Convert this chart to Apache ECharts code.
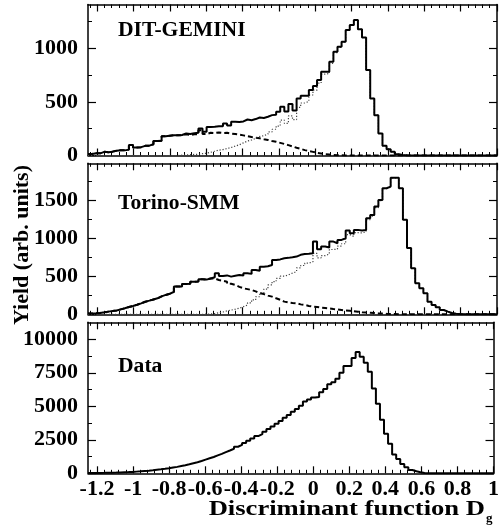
<!DOCTYPE html>
<html>
<head>
<meta charset="utf-8">
<script src="https://cdn.jsdelivr.net/npm/echarts@6/dist/echarts.min.js"></script>
<style>
html,body{margin:0;padding:0;background:#fff;}
#c{width:502px;height:527px;}
</style>
</head>
<body>
<div id="c"></div>
<script>
// ---------------- DATA ----------------
const binLow = -1.25;
const binWidth = 0.0225; // 100 bins from -1.25 to 1.0

const panelNames = ['DIT-GEMINI', 'Torino-SMM', 'Data'];

const xTickValues = [-1.2, -1, -0.8, -0.6, -0.4, -0.2, 0, 0.2, 0.4, 0.6, 0.8, 1];
const xTickLabels = ['-1.2', '-1', '-0.8', '-0.6', '-0.4', '-0.2', '0', '0.2', '0.4', '0.6', '0.8', '1'];

const yMaxs = [1410, 1980, 11270];
const yTicks1 = [0, 500, 1000];
const yTicks2 = [0, 500, 1000, 1500];
const yTicks3 = [0, 2500, 5000, 7500, 10000];
const yMinor1 = [250, 750, 1250];
const yMinor2 = [250, 750, 1250, 1750];
const yMinor3 = [1250, 3750, 6250, 8750];

// DIT-GEMINI
const ditTotal = [
  15, 22, 20, 34, 30, 36, 45, 50, 48, 55,
  97, 75, 78, 90, 92, 105, 135, 138, 180, 185,
  190, 188, 192, 205, 200, 208, 212, 252, 221, 265,
  268, 274, 272, 299, 280, 315, 312, 318, 336, 330,
  340, 355, 350, 362, 377, 380, 408, 455, 410, 480,
  420, 533, 558, 558, 611, 648, 704, 782, 782, 875,
  969, 1016, 1062, 1171, 1218, 1265, 1178, 1103, 798, 533,
  377, 206, 90, 59, 34, 12, 5, 2, 0, 0,
  0, 0, 0, 0, 0, 0, 0, 0, 0, 0,
  0, 0, 0, 0, 0, 0, 0, 0, 0, 0
];
const ditDashed = [
  15, 22, 20, 34, 30, 36, 45, 50, 48, 55,
  97, 75, 78, 90, 92, 105, 135, 138, 180, 185,
  190, 188, 188, 198, 192, 198, 200, 235, 200, 212,
  210, 215, 210, 212, 205, 200, 195, 188, 180, 172,
  165, 160, 152, 145, 135, 128, 118, 108, 97, 85,
  72, 62, 50, 42, 34, 25, 19, 12, 9, 5,
  3, 2, 0, 0, 0, 0, 0, 0, 0, 0,
  0, 0, 0, 0, 0, 0, 0, 0, 0, 0,
  0, 0, 0, 0, 0, 0, 0, 0, 0, 0,
  0, 0, 0, 0, 0, 0, 0, 0, 0, 0
];
const ditDotted = [
  0, 0, 0, 0, 0, 0, 0, 0, 0, 0,
  0, 0, 0, 0, 0, 0, 0, 0, 0, 0,
  0, 0, 3, 5, 8, 10, 12, 17, 21, 30,
  40, 50, 55, 65, 75, 88, 100, 118, 135, 145,
  160, 178, 185, 200, 220, 245, 275, 330, 300, 370,
  335, 450, 490, 505, 565, 610, 675, 760, 765, 860,
  960, 1010, 1058, 1168, 1216, 1263, 1177, 1102, 798, 533,
  377, 206, 90, 59, 34, 12, 5, 2, 0, 0,
  0, 0, 0, 0, 0, 0, 0, 0, 0, 0,
  0, 0, 0, 0, 0, 0, 0, 0, 0, 0
];

// Torino-SMM
const torTotal = [
  10, 13, 18, 26, 35, 42, 50, 65, 79, 95,
  109, 125, 144, 165, 179, 195, 210, 235, 254, 270,
  293, 363, 365, 398, 400, 428, 430, 459, 455, 470,
  485, 538, 503, 510, 494, 505, 515, 508, 538, 530,
  582, 570, 625, 630, 647, 713, 720, 735, 740, 748,
  757, 780, 792, 795, 800, 953, 853, 888, 875, 953,
  932, 975, 997, 1098, 1063, 1107, 1098, 1105, 1260, 1303,
  1413, 1500, 1653, 1675, 1790, 1790, 1653, 1240, 870, 604,
  407, 341, 276, 166, 122, 92, 57, 35, 17, 8,
  4, 2, 0, 0, 0, 0, 0, 0, 0, 0
];
const torDashed = [
  10, 13, 18, 26, 35, 42, 50, 65, 79, 95,
  109, 125, 144, 165, 179, 195, 210, 235, 254, 270,
  293, 363, 365, 398, 400, 428, 430, 459, 455, 470,
  470, 450, 440, 428, 400, 385, 360, 341, 330, 319,
  300, 276, 265, 245, 232, 210, 190, 166, 155, 148,
  144, 130, 122, 110, 100, 95, 88, 83, 78, 70,
  64, 57, 50, 45, 40, 34, 28, 24, 20, 16,
  12, 9, 6, 4, 3, 2, 1, 0, 0, 0,
  0, 0, 0, 0, 0, 0, 0, 0, 0, 0,
  0, 0, 0, 0, 0, 0, 0, 0, 0, 0
];
const torDotted = [
  0, 0, 0, 0, 0, 0, 0, 0, 0, 0,
  0, 0, 0, 0, 0, 0, 0, 0, 0, 0,
  0, 0, 0, 0, 0, 0, 0, 0, 2, 5,
  10, 20, 30, 45, 55, 66, 80, 100, 122, 150,
  188, 230, 284, 330, 385, 428, 470, 500, 516, 540,
  560, 610, 640, 670, 690, 800, 740, 770, 790, 850,
  855, 895, 925, 1045, 1020, 1070, 1068, 1080, 1240, 1287,
  1400, 1491, 1647, 1670, 1787, 1788, 1652, 1240, 870, 604,
  407, 341, 276, 166, 122, 92, 57, 35, 17, 8,
  4, 2, 0, 0, 0, 0, 0, 0, 0, 0
];

// Data
const dataTotal = [
  20, 22, 28, 32, 40, 48, 55, 65, 78, 90,
  105, 125, 145, 170, 195, 225, 260, 295, 335, 380,
  430, 480, 540, 600, 670, 750, 830, 920, 1020, 1120,
  1220, 1340, 1450, 1580, 1700, 1830, 1980, 2120, 2270, 2430,
  2600, 2780, 2920, 3100, 3300, 3500, 3700, 3900, 4150, 4350,
  4600, 4800, 5050, 5350, 5500, 5650, 5700, 6050, 6300, 6650,
  6800, 7050, 7500, 8000, 8000, 8600, 9050, 8700, 8250, 7575,
  6325, 5200, 4000, 2950, 2200, 1400, 1075, 700, 450, 250,
  150, 75, 30, 10, 5, 0, 0, 0, 0, 0,
  0, 0, 0, 0, 0, 0, 0, 0, 0, 0
];

// ---------------- CHART ----------------
const FONT = 'Liberation Serif';
const gridLeft = 88, gridWidth = 409, gridHeight = 151;
const gridTops = [4.5, 163.3, 322.3];

function steps(vals) {
  const pts = vals.map((v, k) => [binLow + k * binWidth, v]);
  pts.push([binLow + vals.length * binWidth, vals[vals.length - 1]]);
  return pts;
}

const xMinor = [];
for (let t = -1.24; t < 1.0; t += 0.04) {
  const r = Math.round(t * 100) / 100;
  if (Math.abs(Math.round(r * 5) - r * 5) > 1e-6) xMinor.push(r);
}

function labelFor(v) {
  for (let i = 0; i < xTickValues.length; i++) {
    if (Math.abs(xTickValues[i] - v) < 1e-6) return xTickLabels[i];
  }
  return '';
}

const labelStyle = { fontFamily: FONT, fontWeight: 'bold', fontSize: 22, color: '#000' };

const grids = [], xAxes = [], yAxes = [], series = [];
const yTickSets = [yTicks1, yTicks2, yTicks3];
const yMinorSets = [yMinor1, yMinor2, yMinor3];

for (let g = 0; g < 3; g++) {
  grids.push({ left: gridLeft, width: gridWidth, top: gridTops[g], height: gridHeight, show: false });
  const xBase = { gridIndex: g, type: 'value', min: -1.25, max: 1, splitLine: { show: false } };
  xAxes.push(Object.assign({}, xBase, {
    position: 'bottom',
    axisLine: { show: true, onZero: false, lineStyle: { color: '#000', width: 1.5 } },
    axisTick: { show: true, inside: true, length: 7, customValues: xTickValues, lineStyle: { color: '#000', width: 1.2 } },
    axisLabel: Object.assign({ show: g === 2, customValues: xTickValues, formatter: labelFor, margin: 5 }, labelStyle)
  }));
  xAxes.push(Object.assign({}, xBase, {
    position: 'bottom',
    axisLine: { show: false, onZero: false },
    axisTick: { show: true, inside: true, length: 3.5, customValues: xMinor, lineStyle: { color: '#000', width: 1 } },
    axisLabel: { show: false }
  }));
  xAxes.push(Object.assign({}, xBase, {
    position: 'top',
    axisLine: { show: true, onZero: false, lineStyle: { color: '#000', width: 1.5 } },
    axisTick: { show: true, inside: true, length: 7, customValues: xTickValues, lineStyle: { color: '#000', width: 1.2 } },
    axisLabel: { show: false }
  }));
  xAxes.push(Object.assign({}, xBase, {
    position: 'top',
    axisLine: { show: false, onZero: false },
    axisTick: { show: true, inside: true, length: 3.5, customValues: xMinor, lineStyle: { color: '#000', width: 1 } },
    axisLabel: { show: false }
  }));

  const yBase = { gridIndex: g, type: 'value', min: 0, max: yMaxs[g], splitLine: { show: false } };
  yAxes.push(Object.assign({}, yBase, {
    position: 'left',
    axisLine: { show: true, onZero: false, lineStyle: { color: '#000', width: 1.5 } },
    axisTick: { show: true, inside: true, length: 8, customValues: yTickSets[g], lineStyle: { color: '#000', width: 1.2 } },
    axisLabel: Object.assign({ show: true, customValues: yTickSets[g], formatter: v => String(v), margin: 10 }, labelStyle)
  }));
  yAxes.push(Object.assign({}, yBase, {
    position: 'left',
    axisLine: { show: false, onZero: false },
    axisTick: { show: true, inside: true, length: 4, customValues: yMinorSets[g], lineStyle: { color: '#000', width: 1 } },
    axisLabel: { show: false }
  }));
  yAxes.push(Object.assign({}, yBase, {
    position: 'right',
    axisLine: { show: true, onZero: false, lineStyle: { color: '#000', width: 1.5 } },
    axisTick: { show: true, inside: true, length: 8, customValues: yTickSets[g], lineStyle: { color: '#000', width: 1.2 } },
    axisLabel: { show: false }
  }));
  yAxes.push(Object.assign({}, yBase, {
    position: 'right',
    axisLine: { show: false, onZero: false },
    axisTick: { show: true, inside: true, length: 4, customValues: yMinorSets[g], lineStyle: { color: '#000', width: 1 } },
    axisLabel: { show: false }
  }));
}

function stepSeries(name, g, vals, lineStyle, z) {
  return {
    name: name, type: 'line', xAxisIndex: g * 4, yAxisIndex: g * 4,
    data: steps(vals), step: 'end', showSymbol: false, symbol: 'none',
    lineStyle: lineStyle, z: z, animation: false, silent: true, clip: true
  };
}
const solid = { color: '#000', width: 2 };
const dashed = { color: '#000', width: 2, type: [5, 3] };
const dotted = { color: '#444', width: 1.2, type: [1.2, 1.8] };

series.push(stepSeries('DIT dashed', 0, ditDashed, dashed, 2));
series.push(stepSeries('DIT dotted', 0, ditDotted, dotted, 2));
series.push(stepSeries('DIT total', 0, ditTotal, solid, 3));
series.push(stepSeries('Torino dashed', 1, torDashed, dashed, 2));
series.push(stepSeries('Torino dotted', 1, torDotted, dotted, 2));
series.push(stepSeries('Torino total', 1, torTotal, solid, 3));
series.push(stepSeries('Data', 2, dataTotal, solid, 3));

const textBase = { fontFamily: FONT, fontWeight: 'bold', fill: '#000' };
const panelLabelY = [20.5, 194, 356.5];
const graphic = panelNames.map((n, i) => ({
  type: 'text', x: 118, y: panelLabelY[i], scaleX: 1.08,
  style: Object.assign({ text: n, fontSize: 20, align: 'left', verticalAlign: 'top' }, textBase)
}));
graphic.push({
  type: 'text', x: 485, y: 510, scaleX: 1.33,
  style: Object.assign({ text: 'Discriminant function D', fontSize: 20, align: 'right', verticalAlign: 'middle' }, textBase)
});
graphic.push({
  type: 'text', x: 486, y: 519,
  style: Object.assign({ text: 'g', fontSize: 13, align: 'left', verticalAlign: 'middle' }, textBase)
});
graphic.push({
  type: 'text', x: 23, y: 245, rotation: Math.PI / 2, scaleX: 1.1,
  style: Object.assign({ text: 'Yield (arb. units)', fontSize: 20, align: 'center', verticalAlign: 'middle' }, textBase)
});

const chart = echarts.init(document.getElementById('c'), null, { renderer: 'canvas', width: 502, height: 527 });
chart.setOption({
  animation: false,
  backgroundColor: '#fff',
  grid: grids,
  xAxis: xAxes,
  yAxis: yAxes,
  series: series,
  graphic: graphic
});
</script>
</body>
</html>
